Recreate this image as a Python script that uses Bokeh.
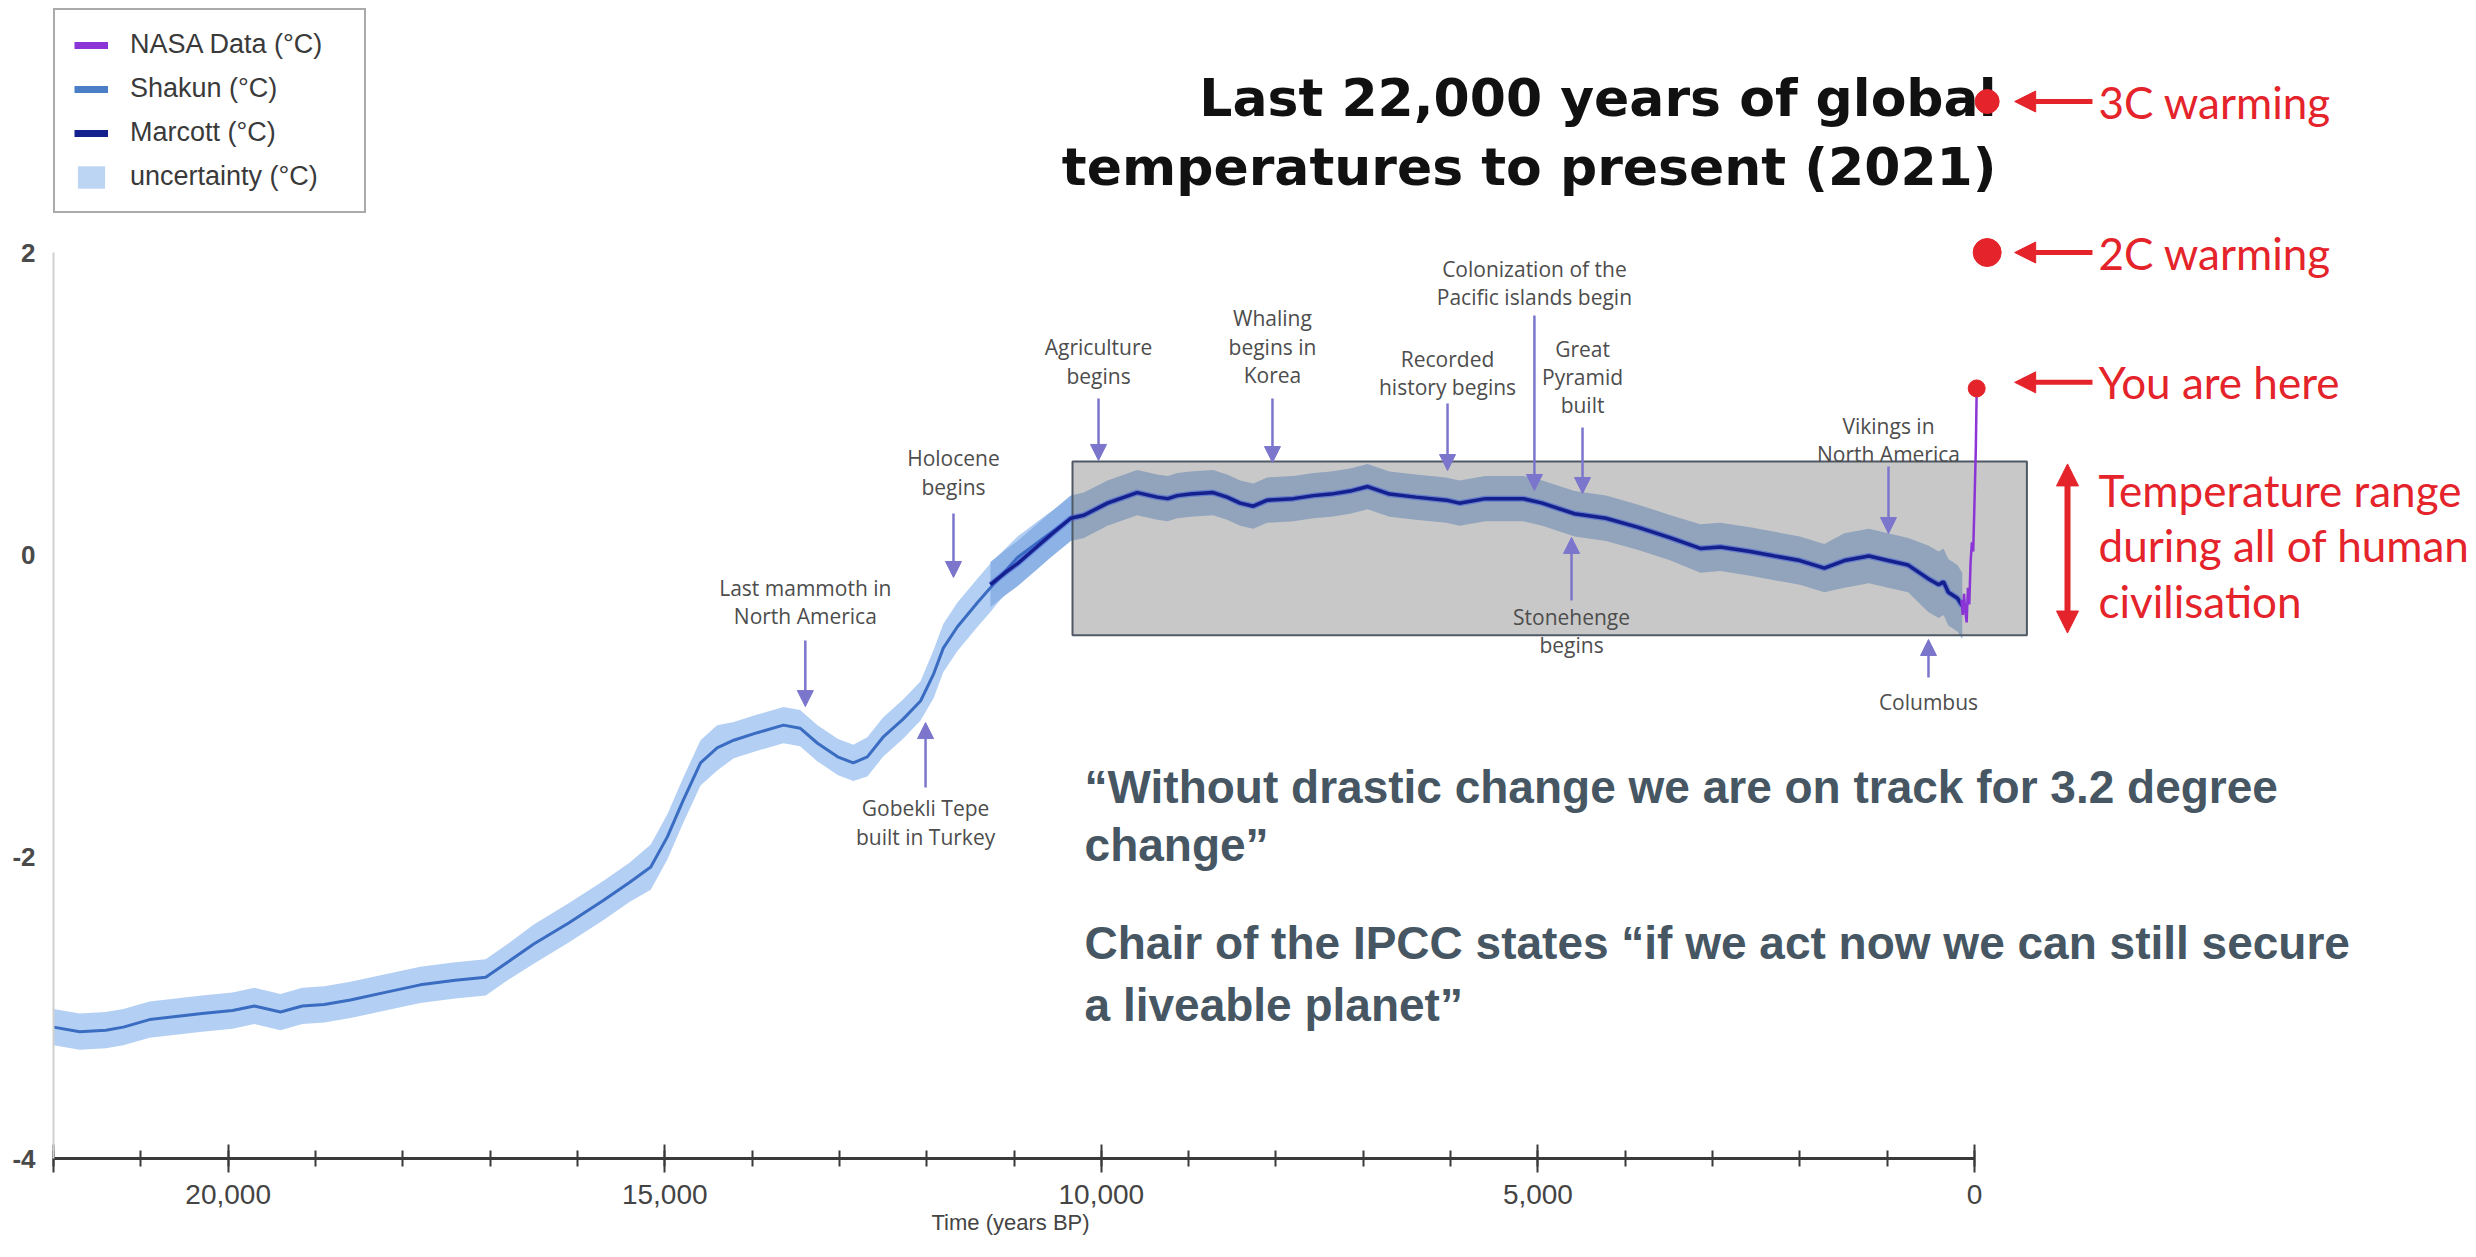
from bokeh.plotting import figure
from bokeh.models import (Range1d, FixedTicker, NumeralTickFormatter, Legend, LegendItem,
                          Arrow, NormalHead, Title)
from bokeh.core.properties import value
from bokeh.embed import file_html
from bokeh.resources import INLINE

# ---------------- data ----------------
shakun_years = [22000, 21700, 21400, 21200, 20900, 20600, 20300, 19950, 19700, 19400,
                19150, 18900, 18600, 18200, 17800, 17400, 17050, 16800, 16500, 16100,
                15700, 15400, 15160, 14970, 14790, 14590, 14400, 14210, 13940, 13640,
                13450, 13250, 13020, 12840, 12680, 12500, 12270, 12070, 11920, 11810,
                11650, 11420, 11270, 10960, 10660, 10390]
shakun_temp = [-3.13, -3.16, -3.15, -3.13, -3.08, -3.06, -3.04, -3.02, -2.99, -3.03,
               -2.99, -2.98, -2.95, -2.90, -2.85, -2.82, -2.80, -2.70, -2.58, -2.44,
               -2.29, -2.17, -2.07, -1.87, -1.63, -1.38, -1.28, -1.23, -1.18, -1.13,
               -1.15, -1.25, -1.34, -1.38, -1.34, -1.21, -1.09, -0.97, -0.79, -0.62,
               -0.48, -0.32, -0.22, -0.02, 0.11, 0.22]
shakun_err = [0.12, 0.12, 0.12, 0.12, 0.12, 0.12, 0.12, 0.12, 0.12, 0.12,
              0.12, 0.12, 0.12, 0.12, 0.12, 0.12, 0.12, 0.12, 0.13, 0.13,
              0.13, 0.13, 0.15, 0.15, 0.15, 0.15, 0.15, 0.12, 0.12, 0.12,
              0.12, 0.12, 0.12, 0.12, 0.13, 0.13, 0.13, 0.13, 0.16, 0.16,
              0.16, 0.16, 0.16, 0.14, 0.14, 0.14]

marcott_years = [11270, 11100, 10960, 10780, 10580, 10350, 10200, 9930, 9590, 9360,
                 9240, 9130, 8980, 8720, 8560, 8410, 8260, 8100, 7800, 7570,
                 7370, 7150, 6950, 6700, 6400, 6050, 5900, 5600, 5170, 4950,
                 4580, 4220, 3850, 3480, 3140, 2910, 2570, 2290, 2000, 1720,
                 1490, 1210, 990, 760, 530, 410, 355, 300, 195, 140]
marcott_temp = [-0.20, -0.12, -0.06, 0.03, 0.13, 0.24, 0.26, 0.34, 0.41, 0.38,
                0.37, 0.39, 0.40, 0.41, 0.38, 0.34, 0.32, 0.36, 0.37, 0.39,
                0.40, 0.42, 0.45, 0.40, 0.38, 0.36, 0.34, 0.37, 0.37, 0.34,
                0.27, 0.24, 0.18, 0.11, 0.04, 0.05, 0.02, -0.01, -0.04, -0.09,
                -0.04, -0.01, -0.04, -0.07, -0.16, -0.20, -0.18, -0.25, -0.29, -0.34]
marcott_err = [0.15, 0.15, 0.15, 0.15, 0.15, 0.15, 0.15, 0.15, 0.15, 0.15,
               0.15, 0.15, 0.15, 0.15, 0.15, 0.15, 0.15, 0.15, 0.15, 0.15,
               0.15, 0.15, 0.15, 0.15, 0.15, 0.15, 0.15, 0.15, 0.15, 0.15,
               0.15, 0.15, 0.15, 0.15, 0.16, 0.16, 0.16, 0.16, 0.16, 0.16,
               0.18, 0.18, 0.18, 0.18, 0.22, 0.22, 0.22, 0.22, 0.22, 0.22]

nasa_years = [150, 135, 120, 105, 90, 75, 60, 45, 30, 15, 0, -15, -25]
nasa_temp = [-0.30, -0.40, -0.26, -0.38, -0.45, -0.22, -0.33, -0.05, 0.08, 0.02, 0.35, 0.70, 1.10]

x_ticks = [0, 5000, 10000, 15000, 20000]
x_minor_ticks = [0, 1000, 2000, 3000, 4000, 5000, 6000, 7000, 8000, 9000, 10000, 11000,
                 12000, 13000, 14000, 15000, 16000, 17000, 18000, 19000, 20000, 21000, 22000]
y_ticks = [-4, -2, 0, 2]
y_labels = ["-4", "-2", "0", "2"]

warming_levels = [3, 2]
warming_labels = ["3C warming", "2C warming"]
warming_marker_year = -145
warming_sizes = [24, 28]

civ_years = (10330, -600)      # grey box: span of human civilisation
civ_temp = (-0.534, 0.616)

# event label: (text lines, year BP, y of first line, arrow start y, arrow end y)
events = [
    ("Last mammoth in|North America", 13390, -0.219, -0.570, -1.007),
    ("Holocene|begins", 11693, 0.636, 0.272, -0.152),
    ("Gobekli Tepe|built in Turkey", 12013, -1.682, -1.543, -1.113),
    ("Agriculture|begins", 10032, 1.371, 1.033, 0.623),
    ("Whaling|begins in|Korea", 8040, 1.563, 1.033, 0.609),
    ("Recorded|history begins", 6035, 1.298, 1.000, 0.556),
    ("Colonization of the|Pacific islands begin", 5040, 1.894, 1.583, 0.424),
    ("Great|Pyramid|built", 4489, 1.364, 0.841, 0.404),
    ("Vikings in|North America", 985, 0.854, 0.583, 0.139),
    ("Columbus", 527, -0.980, -0.815, -0.563),
    ("Stonehenge|begins", 4615, -0.411, -0.305, 0.113),
]
EVENT_LINE_STEP = 0.188

title_lines = ["Last 22,000 years of global", "temperatures to present (2021)"]
title_y = [3.023, 2.566]
title_x = -252

quote_lines = ["\u201cWithout drastic change we are on track for 3.2 degree",
               "change\u201d",
               "Chair of the IPCC states \u201cif we act now we can still secure",
               "a liveable planet\u201d"]
quote_y = [-1.543, -1.927, -2.575, -2.985]
quote_x = 10192

range_lines = ["Temperature range", "during all of human", "civilisation"]
range_y = [0.424, 0.060, -0.305]
red_text_x = -1420
arrow_tail_x = -1351
arrow_tip_x = -460
range_arrow_x = -1065
range_arrow_y = (-0.52, 0.60)

x_axis_title = "Time (years BP)"

RED = "#e4232a"
PURPLE_ARROW = "#7b76cc"

# ---------------- figure ----------------
W, H = 2476, 1257
p = figure(width=W, height=H, output_backend="svg", toolbar_location=None,
           x_range=Range1d(22000, -5749), y_range=Range1d(-4, 3.616),
           min_border_left=53, min_border_right=0, min_border_top=8, min_border_bottom=99)
p.outline_line_color = None
p.grid.visible = False
p.background_fill_color = "white"

# uncertainty bands
p.varea(x=shakun_years,
        y1=[t - e for t, e in zip(shakun_temp, shakun_err)],
        y2=[t + e for t, e in zip(shakun_temp, shakun_err)],
        fill_color="#b3cff4")
p.varea(x=marcott_years,
        y1=[t - e for t, e in zip(marcott_temp, marcott_err)],
        y2=[t + e for t, e in zip(marcott_temp, marcott_err)],
        fill_color="#8db3e6")

# civilisation box (semi-transparent grey over the bands)
p.quad(left=[civ_years[0]], right=[civ_years[1]], bottom=[civ_temp[0]], top=[civ_temp[1]],
       fill_color="#969696", fill_alpha=0.52, line_color="#4f5966", line_width=2)

# lines
p.line(shakun_years, shakun_temp, line_color="#3a6cc2", line_width=3)
p.line(marcott_years, marcott_temp, line_color="#3a55d8", line_width=6, line_alpha=0.5)
p.line(marcott_years, marcott_temp, line_color="#15208f", line_width=3.5)
p.line(nasa_years, nasa_temp, line_color="#8b35d6", line_width=2.5)

# title (drawn before the red markers so the 3C dot sits on top)
p.text(x=[title_x, title_x], y=title_y, text=title_lines, text_align="right",
       text_baseline="alphabetic", text_font=value("DejaVu Sans"), text_font_style="bold",
       text_font_size="52px", text_color="#111111")

# red markers
p.scatter(x=[warming_marker_year, warming_marker_year], y=warming_levels, size=warming_sizes,
          fill_color=RED, line_color=RED)
p.scatter(x=[nasa_years[-1]], y=[nasa_temp[-1]], size=17, fill_color=RED, line_color=RED)

# red texts
p.text(x=[red_text_x, red_text_x, red_text_x],
       y=warming_levels + [nasa_temp[-1] + 0.04],
       text=warming_labels + ["You are here"], text_align="left", text_baseline="middle",
       text_font=value("Lato"), text_font_size="44px", text_color=RED)
p.text(x=[red_text_x] * len(range_lines), y=range_y, text=range_lines, text_align="left",
       text_baseline="middle", text_font=value("Lato"), text_font_size="44px", text_color=RED)

for yy in warming_levels + [nasa_temp[-1] + 0.04]:
    p.add_layout(Arrow(end=NormalHead(size=21, fill_color=RED, line_color=RED, line_width=1),
                       x_start=arrow_tail_x, y_start=yy, x_end=arrow_tip_x, y_end=yy,
                       line_color=RED, line_width=5))
p.add_layout(Arrow(start=NormalHead(size=22, fill_color=RED, line_color=RED, line_width=1),
                   end=NormalHead(size=22, fill_color=RED, line_color=RED, line_width=1),
                   x_start=range_arrow_x, y_start=range_arrow_y[0],
                   x_end=range_arrow_x, y_end=range_arrow_y[1],
                   line_color=RED, line_width=6))

# event labels and arrows
ev_x, ev_y, ev_t = [], [], []
for label, yr, ytop, a0, a1 in events:
    for i, line in enumerate(label.split("|")):
        ev_x.append(yr)
        ev_y.append(ytop - i * EVENT_LINE_STEP)
        ev_t.append(line)
    p.add_layout(Arrow(end=NormalHead(size=16, fill_color=PURPLE_ARROW, line_color=PURPLE_ARROW,
                                      line_width=1),
                       x_start=yr, y_start=a0, x_end=yr, y_end=a1,
                       line_color=PURPLE_ARROW, line_width=2.5))
p.text(x=ev_x, y=ev_y, text=ev_t, text_align="center", text_baseline="middle",
       text_font=value("Open Sans"), text_font_size="21px", text_color="#4d4d4d")

# quotes
p.text(x=[quote_x] * len(quote_lines), y=quote_y, text=quote_lines, text_align="left",
       text_baseline="middle", text_font=value("Liberation Sans"), text_font_style="bold",
       text_font_size="46px", text_color="#465663")

# ---------------- axes ----------------
xa = p.xaxis[0]
xa.ticker = FixedTicker(ticks=x_ticks + [22000], minor_ticks=x_minor_ticks)
xa.formatter = NumeralTickFormatter(format="0,0")
xa.major_label_overrides = {22000: ""}
xa.bounds = (0, 22000)
xa.axis_line_color = "#3a3a3a"
xa.axis_line_width = 3
xa.major_tick_line_color = "#3a3a3a"
xa.major_tick_line_width = 2
xa.major_tick_in = 14
xa.major_tick_out = 14
xa.minor_tick_line_color = "#3a3a3a"
xa.minor_tick_line_width = 2
xa.minor_tick_in = 8
xa.minor_tick_out = 8
xa.major_label_standoff = 12
xa.major_label_text_font = "Liberation Sans"
xa.major_label_text_font_size = "28px"
xa.major_label_text_color = "#444444"

# x-axis title, centred under the axis bounds (not the whole frame)
p.add_layout(Title(text=x_axis_title, align="left", offset=878, standoff=2,
                   text_font="Liberation Sans", text_font_size="22px",
                   text_font_style="normal", text_color="#444444"), "below")

ya = p.yaxis[0]
ya.ticker = FixedTicker(ticks=y_ticks)
ya.major_label_overrides = dict(zip(y_ticks, y_labels))
ya.bounds = (-4, 2)
ya.axis_line_color = "#d0d0d0"
ya.axis_line_width = 2
ya.major_tick_line_color = None
ya.minor_tick_line_color = None
ya.major_tick_out = 0
ya.major_tick_in = 0
ya.major_label_standoff = 18
ya.major_label_text_font = "Liberation Sans"
ya.major_label_text_font_style = "bold"
ya.major_label_text_font_size = "26px"
ya.major_label_text_color = "#4a4a4a"

# ---------------- legend ----------------
# legend proxies: points placed outside the visible ranges so only their legend glyph shows
proxy_x = [40000, 40001]
proxy_y = [10, 10]
lg_nasa = p.line(proxy_x, proxy_y, line_color="#8b35d6", line_width=7)
lg_shakun = p.line(proxy_x, proxy_y, line_color="#4a7fc8", line_width=7)
lg_marcott = p.line(proxy_x, proxy_y, line_color="#15208f", line_width=7)
lg_unc = p.quad(left=[40000], right=[40001], top=[11], bottom=[10],
                fill_color="#bcd5f3", line_color=None)
legend = Legend(items=[LegendItem(label="NASA Data (\u00b0C)", renderers=[lg_nasa]),
                       LegendItem(label="Shakun (\u00b0C)", renderers=[lg_shakun]),
                       LegendItem(label="Marcott (\u00b0C)", renderers=[lg_marcott]),
                       LegendItem(label="uncertainty (\u00b0C)", renderers=[lg_unc])],
                location="top_left", margin=0, padding=19, spacing=13,
                label_height=28, glyph_height=28, glyph_width=34, label_standoff=22,
                label_width=215, border_line_color="#555555", border_line_width=2,
                label_text_font="Liberation Sans", label_text_font_size="27px",
                label_text_color="#3a3a3a", background_fill_color="white",
                background_fill_alpha=1)
p.add_layout(legend)

open("out.html", "w").write(file_html(p, INLINE))
